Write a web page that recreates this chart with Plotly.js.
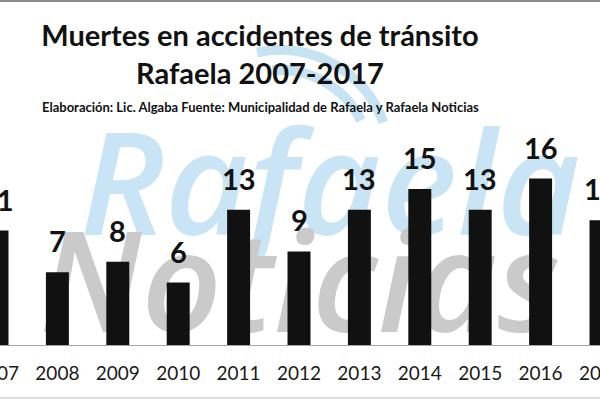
<!DOCTYPE html>
<html>
<head>
<meta charset="utf-8">
<script src="https://cdn.plot.ly/plotly-3.0.1.min.js"></script>
<style>
  html, body { margin: 0; padding: 0; overflow: hidden; background: #fff; }
  #plot { position: absolute; left: -60px; top: 0; }
</style>
</head>
<body>
<div id="plot"></div>
<script>
// muertes por año (Rafaela)
const years = ['2007', '2008', '2009', '2010', '2011', '2012', '2013', '2014', '2015', '2016', '2017'];
const deaths = [11, 7, 8, 6, 13, 9, 13, 15, 13, 16, 12];

// chart is wider than the window: the original picture is a crop
const W = 720, H = 400, SHIFT = 60;
const mT = 130, mB = 55;
const plotH = H - mT - mB;
const px = vx => (vx + SHIFT) / W;          // window x -> paper x
const py = vy => (H - mB - vy) / plotH;     // window y -> paper y

const trace = {
  x: years,
  y: deaths,
  type: 'bar',
  width: 0.38,
  marker: { color: '#111111' },
  hoverinfo: 'skip'
};

// value labels above bars (category index as x)
const labels = years.map((yr, i) => ({
  x: i, y: deaths[i], xref: 'x', yref: 'y',
  text: String(deaths[i]),
  showarrow: false, yanchor: 'bottom', yshift: 12,
  font: { family: 'Lato', size: 29, weight: 'bold', color: '#111' }
}));

labels.push({
  xref: 'paper', yref: 'paper', x: px(260), y: py(107),
  xanchor: 'center', yanchor: 'middle', showarrow: false,
  text: 'Elaboración: Lic. Algaba Fuente: Municipalidad de Rafaela y Rafaela Noticias',
  font: { family: 'Lato', size: 13, weight: 'bold', color: '#111' }
});

// wifi arcs of the watermark logo (pixel offsets from a centre point)
function arc(r, a0, a1) {
  const t0 = a0 * Math.PI / 180, t1 = a1 * Math.PI / 180;
  const k = 4 / 3 * Math.tan((t1 - t0) / 4) * r;
  const p = t => [r * Math.cos(t), r * Math.sin(t)];
  const [x0, y0] = p(t0), [x3, y3] = p(t1);
  const x1 = x0 - k * Math.sin(t0), y1 = y0 + k * Math.cos(t0);
  const x2 = x3 + k * Math.sin(t1), y2 = y3 - k * Math.cos(t1);
  return `M${x0},${y0} C${x1},${y1} ${x2},${y2} ${x3},${y3}`;
}
const wifi = [[110, 20, 102], [90, 26, 95]].map(([r, a0, a1]) => ({
  type: 'path', layer: 'below',
  xref: 'paper', yref: 'paper', xsizemode: 'pixel', ysizemode: 'pixel',
  xanchor: px(280), yanchor: py(160),
  path: arc(r, a0, a1),
  line: { color: '#c6e3f4', width: 10 }
}));

const watermark = [
  { txt: 'Rafaela', x0: 40, x1: 620, y0: 114, y1: 264, size: 144, color: '#c9e4f4' },
  { txt: 'Noticias', x0: 20, x1: 580, y0: 212, y1: 362, size: 140, color: '#cacaca' }
].map(w => ({
  type: 'rect', layer: 'below', xref: 'paper', yref: 'paper',
  x0: px(w.x0), x1: px(w.x1), y0: py(w.y1), y1: py(w.y0),
  line: { width: 0 }, fillcolor: 'rgba(0,0,0,0)',
  label: {
    text: '<i>' + w.txt + '</i>', textposition: 'middle center',
    font: { family: 'Open Sans', size: w.size, weight: 600, style: 'italic', color: w.color }
  }
}));

const frame = [
  { type: 'line', xref: 'paper', yref: 'paper', x0: px(0), x1: px(600), y0: py(1), y1: py(1),
    line: { color: '#8a8a8a', width: 2 } },
  { type: 'line', xref: 'paper', yref: 'paper', x0: px(0), x1: px(600), y0: py(398), y1: py(398),
    line: { color: '#bdbdbd', width: 1 } }
];

const layout = {
  width: W, height: H,
  margin: { l: 0, r: 0, t: mT, b: mB, pad: 0 },
  paper_bgcolor: '#fff', plot_bgcolor: 'rgba(0,0,0,0)',
  showlegend: false,
  title: {
    text: 'Muertes en accidentes de tránsito<br>Rafaela 2007-2017',
    x: px(260), xanchor: 'center', xref: 'paper',
    y: 1 - 46 / H, yanchor: 'top', yref: 'container',
    font: { family: 'Lato', size: 29, weight: 'bold', color: '#111' }
  },
  xaxis: {
    type: 'category',
    range: [(-SHIFT + 3) / 60.4, (600 - SHIFT + 3 + 2 * SHIFT) / 60.4],
    showline: true, linecolor: '#a6a6a6', linewidth: 1,
    ticks: '', ticklabelstandoff: 11,
    tickfont: { family: 'Lato', size: 19, color: '#1a1a1a' },
    fixedrange: true
  },
  yaxis: {
    range: [0, plotH / 10.4],
    visible: false, fixedrange: true
  },
  annotations: labels,
  shapes: wifi.concat(watermark, frame)
};

Plotly.newPlot('plot', [trace], layout, { displayModeBar: false, staticPlot: true });
</script>
</body>
</html>
